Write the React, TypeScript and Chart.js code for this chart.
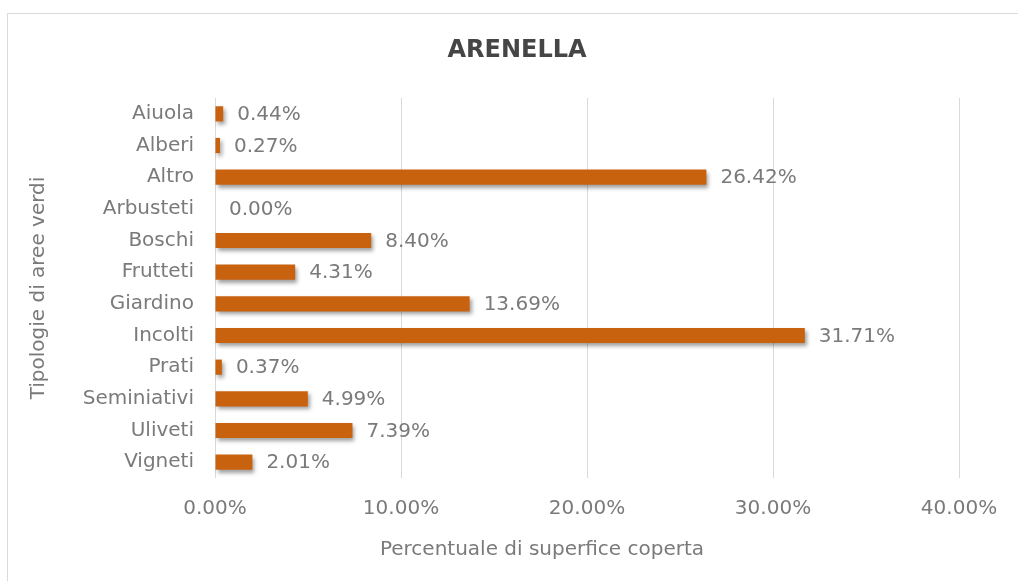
import React, { useEffect, useRef } from "react";
import { Chart, registerables } from "chart.js";

Chart.register(...registerables);

const chartTitle = "ARENELLA";
const categories = [
  "Aiuola",
  "Alberi",
  "Altro",
  "Arbusteti",
  "Boschi",
  "Frutteti",
  "Giardino",
  "Incolti",
  "Prati",
  "Seminiativi",
  "Uliveti",
  "Vigneti",
];
const values = [0.44, 0.27, 26.42, 0.0, 8.4, 4.31, 13.69, 31.71, 0.37, 4.99, 7.39, 2.01];
const xTickValues = [0, 10, 20, 30, 40];
const xTitle = "Percentuale di superfice coperta";
const yTitle = "Tipologie di aree verdi";

const FONT = "'DejaVu Sans', sans-serif";
const WEIGHT = "normal";
const BAR_COLOR = "#C9620E";
const TEXT_COLOR = "#7a7a7a";

const fmt = (v: number) => v.toFixed(2) + "%";

export default function App() {
  const ref = useRef<HTMLCanvasElement | null>(null);

  useEffect(() => {
    if (!ref.current) return;

    const shadowPlugin = {
      id: "barShadow",
      beforeDatasetsDraw(chart: any) {
        const ctx = chart.ctx;
        ctx.save();
        ctx.shadowColor = "rgba(0,0,0,0.38)";
        ctx.shadowBlur = 4;
        ctx.shadowOffsetX = 2;
        ctx.shadowOffsetY = 3;
      },
      afterDatasetsDraw(chart: any) {
        const ctx = chart.ctx;
        ctx.restore();
        const meta = chart.getDatasetMeta(0);
        ctx.save();
        ctx.font = `${WEIGHT} 20px ${FONT}`;
        ctx.fillStyle = TEXT_COLOR;
        ctx.textAlign = "left";
        ctx.textBaseline = "middle";
        meta.data.forEach((bar: any, i: number) => {
          ctx.fillText(fmt(values[i]), bar.x + 14, bar.y + 1);
        });
        ctx.restore();
      },
    };

    const textPlugin = {
      id: "customTexts",
      afterDraw(chart: any) {
        const ctx = chart.ctx;
        ctx.save();
        ctx.font = `bold 24px ${FONT}`;
        ctx.fillStyle = "#454545";
        ctx.textAlign = "center";
        ctx.textBaseline = "middle";
        ctx.fillText(chartTitle, 517, 51);
        ctx.font = `${WEIGHT} 20px ${FONT}`;
        ctx.fillStyle = TEXT_COLOR;
        ctx.fillText(xTitle, 542, 550);
        ctx.restore();
      },
    };

    const chart = new Chart(ref.current, {
      type: "bar",
      data: {
        labels: categories,
        datasets: [
          {
            data: values,
            backgroundColor: BAR_COLOR,
            borderWidth: 0,
            categoryPercentage: 1,
            barPercentage: 0.48,
          },
        ],
      },
      options: {
        indexAxis: "y",
        animation: false,
        responsive: false,
        devicePixelRatio: 1,
        layout: { padding: { top: 98, right: 59, bottom: 0, left: 0 } },
        plugins: {
          legend: { display: false },
          tooltip: { enabled: false },
          title: { display: false },
        },
        scales: {
          x: {
            min: 0,
            max: 40,
            afterBuildTicks(scale: any) {
              scale.ticks = xTickValues.map((v) => ({ value: v }));
            },
            afterFit(scale: any) {
              scale.height = 103;
            },
            grid: { color: "#d9d9d9", lineWidth: 1, drawTicks: false },
            border: { display: false },
            ticks: {
              padding: 19,
              color: TEXT_COLOR,
              font: { family: FONT, size: 20, weight: WEIGHT as any },
              callback: (v: any) => fmt(Number(v)),
            },
            title: { display: false },
          },
          y: {
            afterFit(scale: any) {
              scale.width = 215;
            },
            grid: { display: false, drawTicks: false },
            border: { display: false },
            ticks: {
              padding: 21,
              color: TEXT_COLOR,
              font: { family: FONT, size: 20, weight: WEIGHT as any },
            },
            title: {
              display: true,
              text: yTitle,
              color: TEXT_COLOR,
              font: { family: FONT, size: 20, weight: WEIGHT as any },
              padding: { top: 27, bottom: 0 },
            },
          },
        },
      },
      plugins: [shadowPlugin, textPlugin],
    });

    return () => chart.destroy();
  }, []);

  return (
    <div
      style={{
        position: "fixed",
        left: 0,
        top: 0,
        width: 1018,
        height: 581,
        overflow: "hidden",
        background: "#ffffff",
      }}
    >
      <div
        style={{
          position: "absolute",
          left: 7,
          top: 13,
          width: 1040,
          height: 600,
          border: "1px solid #d9d9d9",
          boxSizing: "border-box",
        }}
      />
      <canvas
        ref={ref}
        width={1018}
        height={581}
        style={{ position: "absolute", left: 0, top: 0, width: 1018, height: 581 }}
      />
    </div>
  );
}
